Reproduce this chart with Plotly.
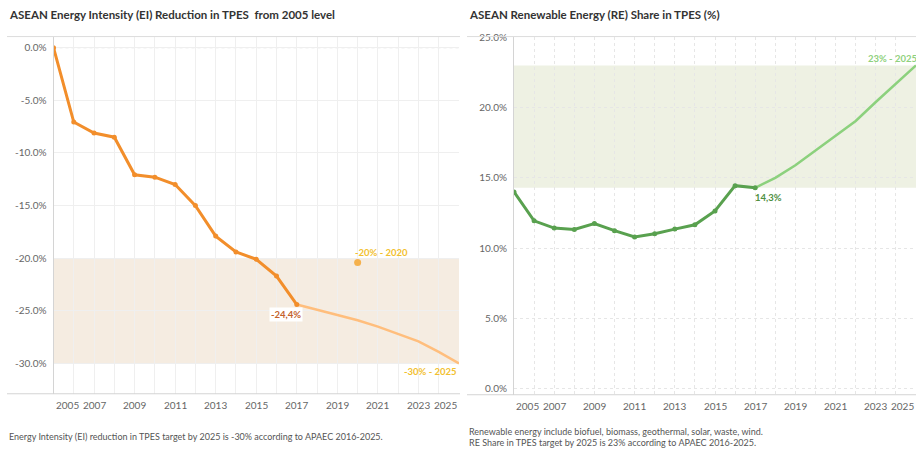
import plotly.graph_objects as go

# ---------------- data ----------------
ei_years = list(range(2005, 2018))
ei_actual = [0.0, -7.06, -8.1, -8.5, -12.07, -12.3, -13.0, -15.0, -17.9, -19.4, -20.1, -21.7, -24.4]
ei_proj_years = list(range(2017, 2026))
ei_proj = [-24.4, -24.9, -25.4, -25.9, -26.5, -27.2, -27.9, -28.9, -30.0]
ei_mid_year = [2020]
ei_mid_value = [-20.4]
ei_band = [-30.0, -20.0]

re_years = list(range(2005, 2018))
re_actual = [14.0, 11.95, 11.43, 11.34, 11.76, 11.25, 10.8, 11.03, 11.36, 11.67, 12.65, 14.45, 14.3]
re_proj_years = list(range(2017, 2026))
re_proj = [14.3, 15.0, 15.9, 16.95, 18.0, 19.05, 20.4, 21.7, 23.0]
re_band = [14.3, 23.0]

x_tick_years = [2005, 2007, 2009, 2011, 2013, 2015, 2017, 2019, 2021, 2023, 2025]
ei_yticks = [0, -5, -10, -15, -20, -25, -30]
ei_ytext = ["0.0%", "-5.0%", "-10.0%", "-15.0%", "-20.0%", "-25.0%", "-30.0%"]
re_yticks = [0, 5, 10, 15, 20, 25]
re_ytext = ["0.0%", "5.0%", "10.0%", "15.0%", "20.0%", "25.0%"]

title_left = "ASEAN Energy Intensity (EI) Reduction in TPES \u00a0from 2005 level"
title_right = "ASEAN Renewable Energy (RE) Share in TPES (%)"
note_left = "Energy Intensity (EI) reduction in TPES target by 2025 is -30% according to APAEC 2016-2025."
note_right = ["Renewable energy include biofuel, biomass, geothermal, solar, waste, wind.",
              "RE Share in TPES target by 2025 is 23% according to APAEC 2016-2025."]

# ---------------- style ----------------
W, H = 916, 450
FONT = "Lato"
ORANGE = "#f28e2b"
ORANGE_L = "#ffbe7d"
GREEN = "#59a14f"
GREEN_L = "#8cd17d"
GRID = "#efefef"
AXLINE = "#d4d4d4"
TICKC = "#666666"


def px_x(p):
    return p / W


def px_y(p):
    return 1 - p / H


fig = go.Figure()

# left chart traces
fig.add_trace(go.Scatter(x=ei_proj_years, y=ei_proj, mode="lines",
                         line=dict(color=ORANGE_L, width=2.5), xaxis="x", yaxis="y"))
fig.add_trace(go.Scatter(x=ei_years, y=ei_actual, mode="lines+markers",
                         line=dict(color=ORANGE, width=3), marker=dict(size=5, color=ORANGE),
                         xaxis="x", yaxis="y"))
fig.add_trace(go.Scatter(x=ei_mid_year, y=ei_mid_value, mode="markers",
                         marker=dict(size=7, color="#f5b14c"), xaxis="x", yaxis="y"))

# right chart traces
fig.add_trace(go.Scatter(x=re_proj_years, y=re_proj, mode="lines",
                         line=dict(color=GREEN_L, width=2.5), xaxis="x2", yaxis="y2"))
fig.add_trace(go.Scatter(x=re_years, y=re_actual, mode="lines+markers",
                         line=dict(color=GREEN, width=3), marker=dict(size=5, color=GREEN),
                         xaxis="x2", yaxis="y2"))

common_x = dict(range=[2005, 2025], dtick=1, tick0=2005, showgrid=True, gridcolor=GRID,
                gridwidth=1, showticklabels=False, zeroline=False, showline=False, fixedrange=True)
common_y = dict(showgrid=True, gridcolor=GRID, gridwidth=1, zeroline=False, showline=True,
                linecolor=AXLINE, linewidth=1, ticks="", tickfont=dict(family=FONT, size=10, color=TICKC),
                ticklabelstandoff=4, fixedrange=True)

shapes = []
annotations = []

# bands
shapes.append(dict(type="rect", xref="x", yref="y", x0=2005, x1=2025, y0=ei_band[0], y1=ei_band[1],
                   fillcolor="#f5ece1", line=dict(width=0), layer="below"))
shapes.append(dict(type="rect", xref="x2", yref="y2", x0=2005, x1=2025, y0=re_band[0], y1=re_band[1],
                   fillcolor="#eef1e3", line=dict(width=0), layer="below"))
# zero reference line on the left chart
shapes.append(dict(type="line", xref="x", yref="y", x0=2005, x1=2025, y0=0, y1=0,
                   line=dict(color="#dddddd", width=1, dash="dot"), layer="below"))

# frame lines (top border and bottom axis line)
for (x0, x1, ytop, ybot) in [(7, 460, 31, 393), (467, 916, 31, 394)]:
    shapes.append(dict(type="line", xref="paper", yref="paper", x0=px_x(x0), x1=px_x(x1),
                       y0=px_y(ytop), y1=px_y(ytop), line=dict(color="#dcdcdc", width=1)))
    shapes.append(dict(type="line", xref="paper", yref="paper", x0=px_x(x0), x1=px_x(x1),
                       y0=px_y(ybot), y1=px_y(ybot), line=dict(color=AXLINE, width=1)))

# x tick labels as annotations (edge labels kept inside the pane like the original)
for xr, yref_ybot in [("x", 393), ("x2", 394)]:
    for i, yr in enumerate(x_tick_years):
        anchor = "center"
        if i == 0:
            anchor = "left"
        elif i == len(x_tick_years) - 1:
            anchor = "right"
        annotations.append(dict(x=yr, xref=xr, y=px_y(yref_ybot + 3), yref="paper", text=str(yr),
                                showarrow=False, xanchor=anchor, yanchor="top",
                                font=dict(family=FONT, size=10, color=TICKC)))

# titles
annotations.append(dict(x=px_x(7), y=px_y(9), xref="paper", yref="paper", text="<b>" + title_left + "</b>",
                        showarrow=False, xanchor="left", yanchor="middle",
                        font=dict(family=FONT, size=11.5, color="#333333")))
annotations.append(dict(x=px_x(467), y=px_y(9), xref="paper", yref="paper", text="<b>" + title_right + "</b>",
                        showarrow=False, xanchor="left", yanchor="middle",
                        font=dict(family=FONT, size=11.5, color="#333333")))

# notes
annotations.append(dict(x=px_x(7), y=px_y(436), xref="paper", yref="paper", text=note_left,
                        showarrow=False, xanchor="left", yanchor="middle",
                        font=dict(family=FONT, size=9, color="#555555")))
annotations.append(dict(x=px_x(467), y=px_y(431), xref="paper", yref="paper", text=note_right[0],
                        showarrow=False, xanchor="left", yanchor="middle",
                        font=dict(family=FONT, size=9, color="#555555")))
annotations.append(dict(x=px_x(467), y=px_y(442), xref="paper", yref="paper", text=note_right[1],
                        showarrow=False, xanchor="left", yanchor="middle",
                        font=dict(family=FONT, size=9, color="#555555")))

# data labels
annotations.append(dict(x=ei_mid_year[0], y=ei_mid_value[0], xref="x", yref="y",
                        text="<b>-20% - " + str(ei_mid_year[0]) + "</b>", showarrow=False,
                        xanchor="left", yanchor="bottom", xshift=-5, yshift=2,
                        font=dict(family=FONT, size=9.5, color="#f2c02e")))
annotations.append(dict(x=ei_years[-1], y=ei_actual[-1], xref="x", yref="y",
                        text="<b>-24,4%</b>", showarrow=False, bgcolor="white",
                        xanchor="center", yanchor="top", xshift=-11, yshift=-2,
                        font=dict(family=FONT, size=9.5, color="#c4622a")))
annotations.append(dict(x=ei_proj_years[-1], y=ei_proj[-1], xref="x", yref="y",
                        text="<b>-30% - " + str(ei_proj_years[-1]) + "</b>", showarrow=False,
                        xanchor="right", yanchor="top", yshift=-1,
                        font=dict(family=FONT, size=9.5, color="#f2c02e")))
annotations.append(dict(x=re_years[-1], y=re_actual[-1], xref="x2", yref="y2",
                        text="<b>14,3%</b>", showarrow=False,
                        xanchor="left", yanchor="top", xshift=-2, yshift=-2,
                        font=dict(family=FONT, size=9.5, color="#4f8f3f")))
annotations.append(dict(x=re_proj_years[-1], y=re_proj[-1], xref="x2", yref="y2",
                        text="<b>23% - " + str(re_proj_years[-1]) + "</b>", showarrow=False,
                        xanchor="right", yanchor="bottom", xshift=3, yshift=-1,
                        font=dict(family=FONT, size=9.5, color="#8fd17d")))

right_x = dict(common_x)
right_x["griddash"] = "dot"
right_x["gridcolor"] = "#e6e6e6"
right_y = dict(common_y)
right_y["griddash"] = "dot"
right_y["gridcolor"] = "#e6e6e6"

fig.update_layout(
    width=W, height=H, margin=dict(l=0, r=0, t=0, b=0),
    paper_bgcolor="white", plot_bgcolor="white", showlegend=False,
    xaxis=dict(domain=[px_x(53.5), px_x(459)], anchor="y", **common_x),
    yaxis=dict(domain=[px_y(393), px_y(31)], anchor="x", range=[-32.88, 1.06],
               tickvals=ei_yticks, ticktext=ei_ytext, **common_y),
    xaxis2=dict(domain=[px_x(514), 1.0], anchor="y2", **right_x),
    yaxis2=dict(domain=[px_y(394), px_y(31)], anchor="x2", range=[-0.42, 25.05],
                tickvals=re_yticks, ticktext=re_ytext, **right_y),
    shapes=shapes, annotations=annotations,
)

fig.write_html("out.html", config={"displayModeBar": False},
               post_script="document.body.style.margin='0';document.body.style.overflow='hidden';")
